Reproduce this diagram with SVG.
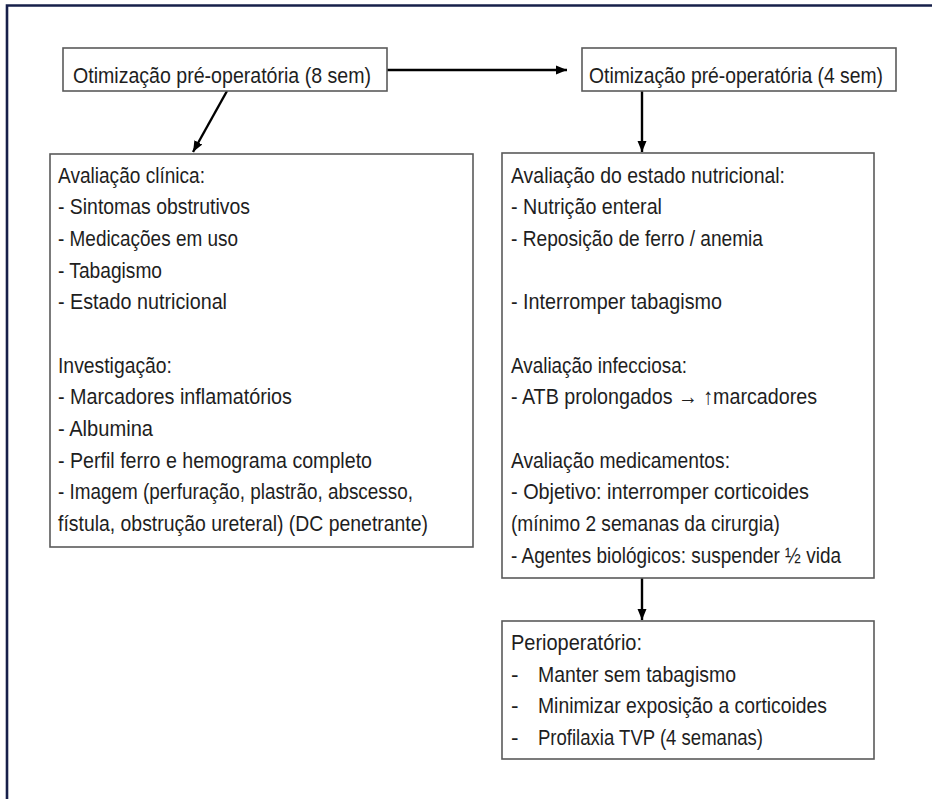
<svg xmlns="http://www.w3.org/2000/svg" width="932" height="799" viewBox="0 0 932 799">
<style>
.box{fill:#ffffff;stroke:#5a5a5a;stroke-width:1.6}
.t{font-family:"Liberation Sans",Arial,sans-serif;font-size:22.5px;fill:#1e1e1e}
.c{stroke:#000;stroke-width:2.4;fill:none;marker-end:url(#ah)}
</style>
<defs>
<marker id="ah" markerUnits="userSpaceOnUse" markerWidth="12" markerHeight="12" viewBox="0 0 12 12" refX="11" refY="6" orient="auto">
<path d="M0,1.5 L11,6 L0,10.5 Z" fill="#000"/>
</marker>
</defs>
<rect width="932" height="799" fill="#ffffff"/>
<path d="M7,799 V5.5 H932" fill="none" stroke="#17204a" stroke-width="2.6"/>

<g id="connectors">
<path class="c" d="M387,70 H567"/>
<path class="c" d="M227,91 L193,152"/>
<path class="c" d="M642,91 V152"/>
<path class="c" d="M642,578 V620"/>
</g>

<g id="n1">
<rect class="box" x="63" y="48" width="324" height="43"/>
<text class="t" x="73" y="83" textLength="298" lengthAdjust="spacingAndGlyphs">Otimização pré-operatória (8 sem)</text>
</g>

<g id="n2">
<rect class="box" x="582" y="48" width="314" height="43"/>
<text class="t" x="589" y="83" textLength="294" lengthAdjust="spacingAndGlyphs">Otimização pré-operatória (4 sem)</text>
</g>

<g id="n3">
<rect class="box" x="50" y="154" width="423" height="393"/>
<text class="t" x="58" y="182.7" textLength="147" lengthAdjust="spacingAndGlyphs">Avaliação clínica:</text>
<text class="t" x="58" y="214.3" textLength="192" lengthAdjust="spacingAndGlyphs">- Sintomas obstrutivos</text>
<text class="t" x="58" y="246" textLength="180" lengthAdjust="spacingAndGlyphs">- Medicações em uso</text>
<text class="t" x="58" y="277.7" textLength="104" lengthAdjust="spacingAndGlyphs">- Tabagismo</text>
<text class="t" x="58" y="309.3" textLength="169" lengthAdjust="spacingAndGlyphs">- Estado nutricional</text>
<text class="t" x="58" y="372.7" textLength="114" lengthAdjust="spacingAndGlyphs">Investigação:</text>
<text class="t" x="58" y="404.3" textLength="234" lengthAdjust="spacingAndGlyphs">- Marcadores inflamatórios</text>
<text class="t" x="58" y="436" textLength="95" lengthAdjust="spacingAndGlyphs">- Albumina</text>
<text class="t" x="58" y="467.7" textLength="314" lengthAdjust="spacingAndGlyphs">- Perfil ferro e hemograma completo</text>
<text class="t" x="58" y="499.3" textLength="355" lengthAdjust="spacingAndGlyphs">- Imagem (perfuração, plastrão, abscesso,</text>
<text class="t" x="58" y="531" textLength="370" lengthAdjust="spacingAndGlyphs">fístula, obstrução ureteral) (DC penetrante)</text>
</g>

<g id="n4">
<rect class="box" x="502" y="153" width="372" height="425"/>
<text class="t" x="511" y="182.7" textLength="274" lengthAdjust="spacingAndGlyphs">Avaliação do estado nutricional:</text>
<text class="t" x="511" y="214.3" textLength="151" lengthAdjust="spacingAndGlyphs">- Nutrição enteral</text>
<text class="t" x="511" y="246" textLength="252" lengthAdjust="spacingAndGlyphs">- Reposição de ferro  / anemia</text>
<text class="t" x="511" y="309.3" textLength="211" lengthAdjust="spacingAndGlyphs">- Interromper tabagismo</text>
<text class="t" x="511" y="372.7" textLength="176" lengthAdjust="spacingAndGlyphs">Avaliação infecciosa:</text>
<text class="t" x="511" y="404.3" textLength="306" lengthAdjust="spacingAndGlyphs">- ATB prolongados → ↑marcadores</text>
<text class="t" x="511" y="467.7" textLength="219" lengthAdjust="spacingAndGlyphs">Avaliação medicamentos:</text>
<text class="t" x="511" y="499.3" textLength="298" lengthAdjust="spacingAndGlyphs">- Objetivo: interromper corticoides</text>
<text class="t" x="511" y="531" textLength="269" lengthAdjust="spacingAndGlyphs">(mínimo 2 semanas da cirurgia)</text>
<text class="t" x="511" y="562.7" textLength="330" lengthAdjust="spacingAndGlyphs">- Agentes biológicos: suspender ½ vida</text>
</g>

<g id="n5">
<rect class="box" x="502" y="621" width="372" height="138"/>
<text class="t" x="511" y="650" textLength="131" lengthAdjust="spacingAndGlyphs">Perioperatório:</text>
<text class="t" x="511" y="681.7">-</text>
<text class="t" x="538" y="681.7" textLength="198" lengthAdjust="spacingAndGlyphs">Manter sem tabagismo</text>
<text class="t" x="511" y="713.3">-</text>
<text class="t" x="538" y="713.3" textLength="289" lengthAdjust="spacingAndGlyphs">Minimizar exposição a corticoides</text>
<text class="t" x="511" y="745">-</text>
<text class="t" x="538" y="745" textLength="225" lengthAdjust="spacingAndGlyphs">Profilaxia TVP (4 semanas)</text>
</g>
</svg>
